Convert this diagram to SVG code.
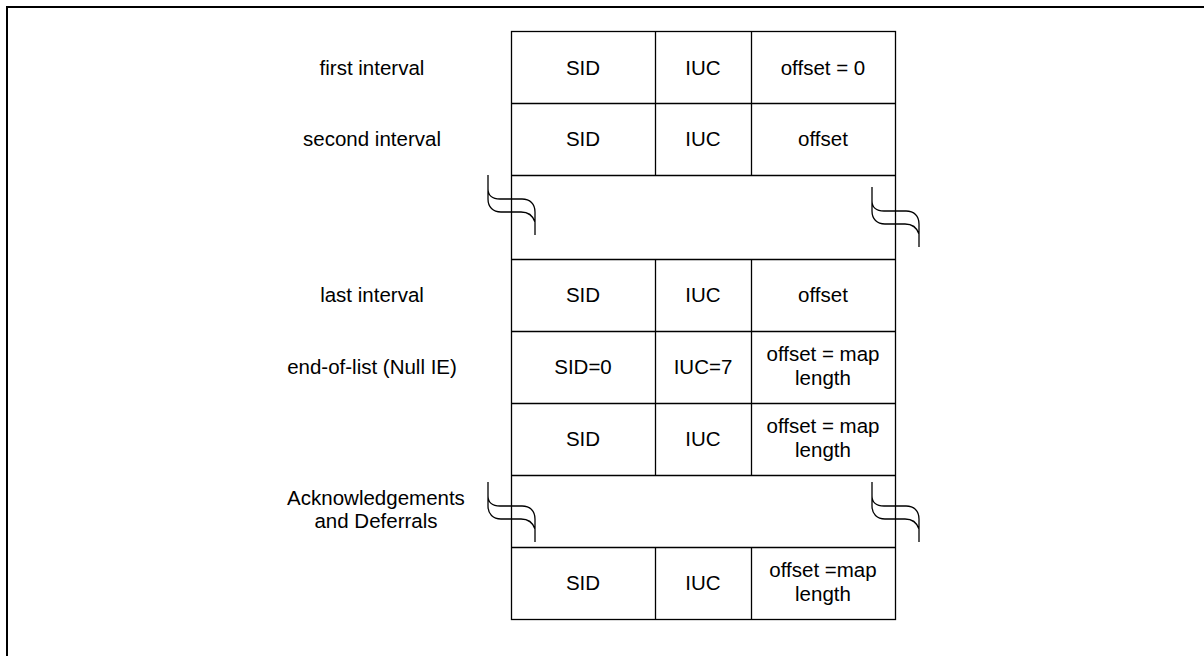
<svg xmlns="http://www.w3.org/2000/svg" width="1204" height="656" viewBox="0 0 1204 656">
<style>
text{font-family:"Liberation Sans",Arial,sans-serif;font-size:20.5px;fill:#000;text-anchor:middle}
.cell{fill:#fff;stroke:#000;stroke-width:1.3}
.ln{stroke:#000;stroke-width:1.3;fill:none}
.brk{stroke:#000;stroke-width:1.3;fill:none}
</style>
<defs>
<path id="brk" class="brk" d="M0,0 V14 C0,20 4,24 12,24 H34 C42,24 47,29 47,37 V60 M0,14 V24 C0,32 5,37 13,37 H33 C40,37 45,41 47,47"/>
</defs>
<rect x="7" y="7" width="1400" height="900" fill="none" stroke="#000" stroke-width="2"/>
<g id="table">
<rect class="cell" x="511.5" y="31.5" width="384" height="588"/>
<g id="row-first">
<line class="ln" x1="511.5" y1="103.5" x2="895.5" y2="103.5"/>
<line class="ln" x1="655.5" y1="31.5" x2="655.5" y2="175.5"/>
<line class="ln" x1="751.5" y1="31.5" x2="751.5" y2="175.5"/>
<text x="583" y="75">SID</text><text x="703" y="75">IUC</text><text x="823" y="75">offset = 0</text>
<text x="372" y="75">first interval</text>
</g>
<g id="row-second">
<line class="ln" x1="511.5" y1="175.5" x2="895.5" y2="175.5"/>
<text x="583" y="146">SID</text><text x="703" y="146">IUC</text><text x="823" y="146">offset</text>
<text x="372" y="146">second interval</text>
</g>
<g id="break-1">
<line class="ln" x1="511.5" y1="259.5" x2="895.5" y2="259.5"/>
<use href="#brk" x="488" y="175"/>
<use href="#brk" x="872" y="187"/>
</g>
<g id="row-last">
<line class="ln" x1="655.5" y1="259.5" x2="655.5" y2="475.5"/>
<line class="ln" x1="751.5" y1="259.5" x2="751.5" y2="475.5"/>
<line class="ln" x1="511.5" y1="331.5" x2="895.5" y2="331.5"/>
<text x="583" y="302">SID</text><text x="703" y="302">IUC</text><text x="823" y="302">offset</text>
<text x="372" y="302">last interval</text>
</g>
<g id="row-end">
<line class="ln" x1="511.5" y1="403.5" x2="895.5" y2="403.5"/>
<text x="583" y="374">SID=0</text><text x="703" y="374">IUC=7</text>
<text x="823" y="361">offset = map</text><text x="823" y="385">length</text>
<text x="372" y="374">end-of-list (Null IE)</text>
</g>
<g id="row-5">
<line class="ln" x1="511.5" y1="475.5" x2="895.5" y2="475.5"/>
<text x="583" y="446">SID</text><text x="703" y="446">IUC</text>
<text x="823" y="433">offset = map</text><text x="823" y="457">length</text>
</g>
<g id="break-2">
<line class="ln" x1="511.5" y1="547.5" x2="895.5" y2="547.5"/>
<use href="#brk" x="488" y="482"/>
<use href="#brk" x="872" y="482"/>
<text x="376" y="505">Acknowledgements</text>
<text x="376" y="528">and Deferrals</text>
</g>
<g id="row-6">
<line class="ln" x1="655.5" y1="547.5" x2="655.5" y2="619.5"/>
<line class="ln" x1="751.5" y1="547.5" x2="751.5" y2="619.5"/>
<text x="583" y="590">SID</text><text x="703" y="590">IUC</text>
<text x="823" y="577">offset =map</text><text x="823" y="601">length</text>
</g>
</g>
<g id="connectors"/>
</svg>
